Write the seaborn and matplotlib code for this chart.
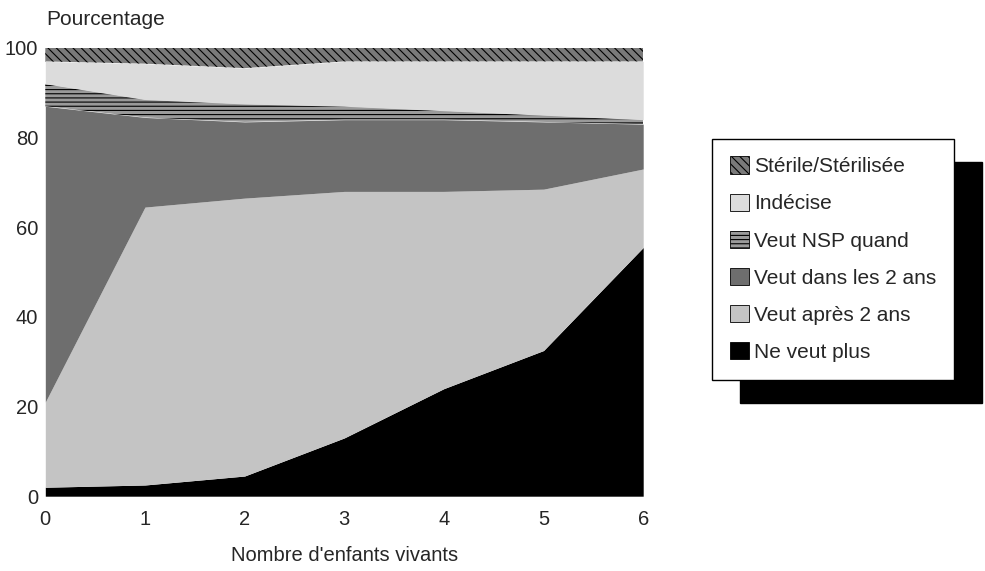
import numpy as np
import matplotlib
matplotlib.use("Agg")
import matplotlib.pyplot as plt
import seaborn as sns

# données (pourcentages par nombre d'enfants vivants)
enfants = [0, 1, 2, 3, 4, 5, 6]
ne_veut_plus = [2.0, 2.5, 4.5, 13.0, 24.0, 32.5, 55.5]
veut_apres_2ans = [19.0, 62.0, 62.0, 55.0, 44.0, 36.0, 17.5]
veut_dans_2ans = [66.0, 20.0, 17.0, 16.0, 16.0, 15.0, 10.0]
veut_nsp_quand = [5.0, 4.0, 4.0, 3.0, 2.0, 1.5, 1.0]
indecise = [5.0, 8.0, 8.0, 10.0, 11.0, 12.0, 13.0]
sterile = [3.0, 3.5, 4.5, 3.0, 3.0, 3.0, 3.0]

series = [
    ("Ne veut plus", ne_veut_plus, "black", None),
    ("Veut après 2 ans", veut_apres_2ans, "#c4c4c4", None),
    ("Veut dans les 2 ans", veut_dans_2ans, "#6e6e6e", None),
    ("Veut NSP quand", veut_nsp_quand, "#9a9a9a", "----"),
    ("Indécise", indecise, "#dcdcdc", None),
    ("Stérile/Stérilisée", sterile, "#7a7a7a", "\\\\\\\\"),
]

sns.set_theme(style="white")
plt.rcParams['font.family'] = ['Liberation Sans', 'DejaVu Sans']
plt.rcParams['hatch.linewidth'] = 0.8
plt.rcParams['hatch.color'] = 'black'

fig = plt.figure(figsize=(9.85, 5.71), dpi=100)
ax = fig.add_axes([0.046, 0.131, 0.607, 0.785])

bas = np.zeros(len(enfants))
handles = []
for nom, vals, couleur, hachure in series:
    haut = bas + np.array(vals)
    h = ax.fill_between(enfants, bas, haut, facecolor=couleur, hatch=hachure,
                        edgecolor='black' if hachure else couleur, linewidth=0,
                        label=nom)
    handles.append(h)
    bas = haut

ax.set_xlim(0, 6)
ax.set_ylim(0, 100)
ax.set_xticks(range(7))
ax.set_yticks([0, 20, 40, 60, 80, 100])
ax.tick_params(axis='both', labelsize=14.5, length=4, width=1, color='black',
               direction='out', pad=6)
ax.tick_params(axis='y', pad=1)
for s in ax.spines.values():
    s.set_visible(False)

ax.set_xlabel("Nombre d'enfants vivants", fontsize=14.5, labelpad=12)
fig.text(0.047, 0.966, "Pourcentage", fontsize=15, ha='left', va='center')

# légende dans l'ordre du haut vers le bas, avec ombre noire
leg = fig.legend(handles[::-1], [s[0] for s in series][::-1],
                 loc='upper left', bbox_to_anchor=(0.723, 0.757),
                 fontsize=15, frameon=True, fancybox=False,
                 handlelength=0.9, handleheight=0.9, handletextpad=0.25,
                 labelspacing=0.83, borderpad=0.85, borderaxespad=0,
                 shadow={'ox': 20, 'oy': -17, 'facecolor': 'black',
                         'edgecolor': 'black', 'alpha': 1})
leg.get_frame().set_edgecolor('black')
leg.get_frame().set_linewidth(1.0)
leg.get_frame().set_facecolor('white')
for p in leg.get_patches():
    p.set_edgecolor('black')
    p.set_linewidth(0.6)

fig.savefig("out.png", dpi=100)
